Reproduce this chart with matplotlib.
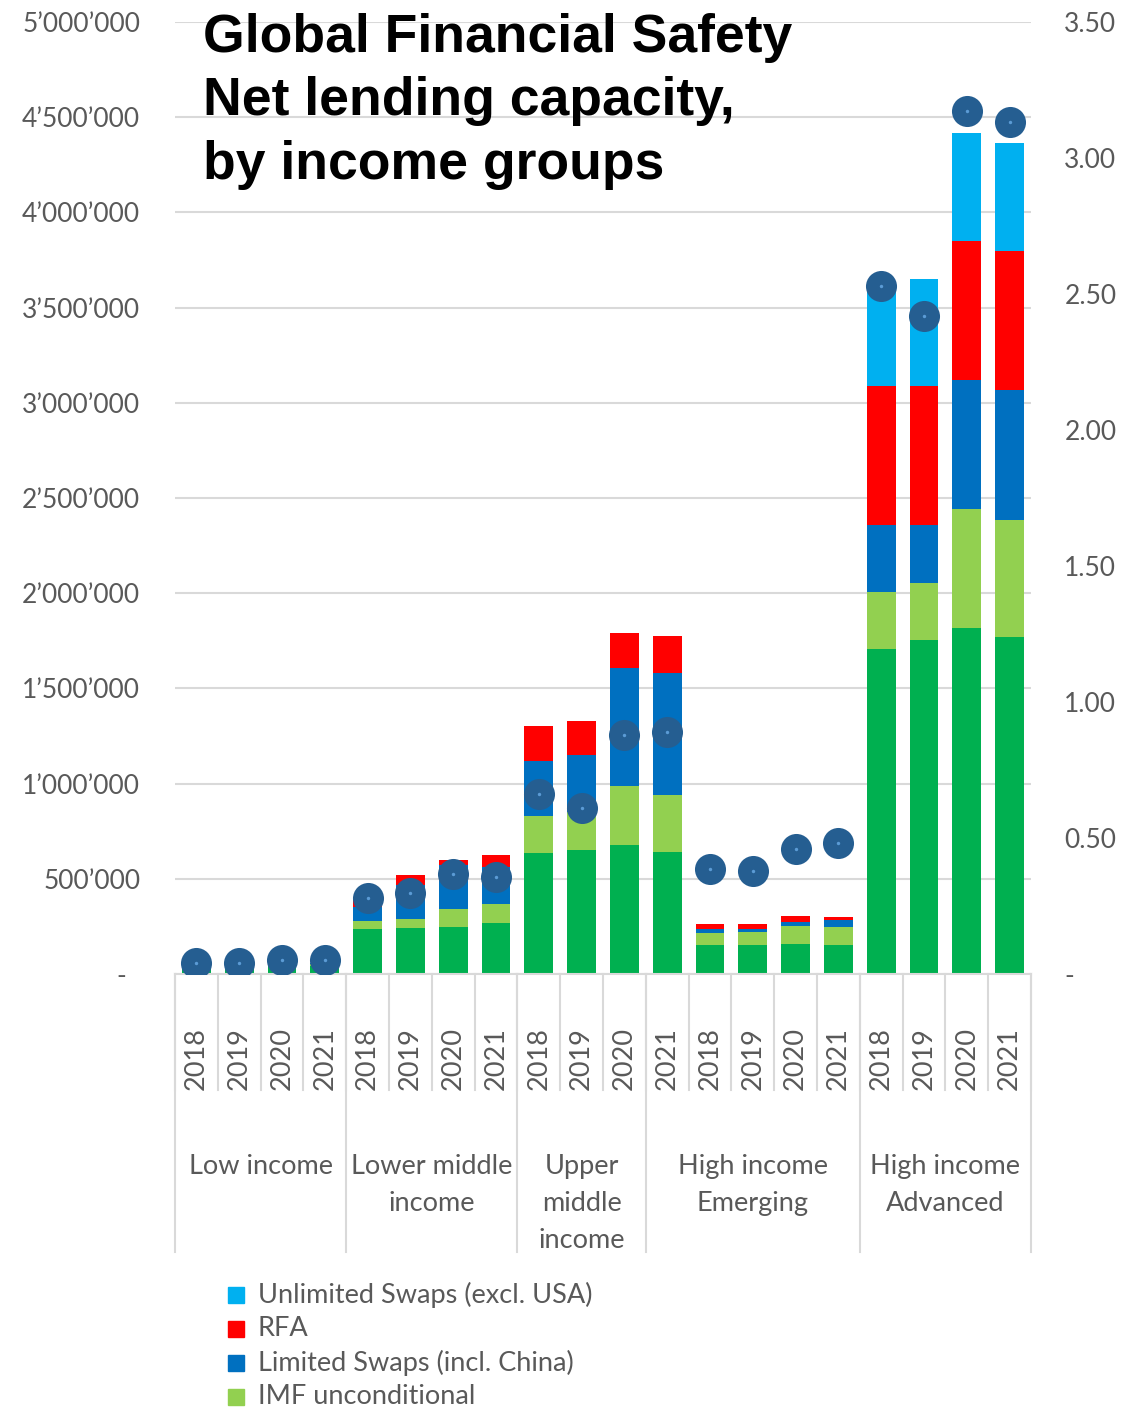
"""Global Financial Safety Net lending capacity by income group, stacked bars with ratio dots."""
import numpy as np
import matplotlib.pyplot as plt
from matplotlib.patches import Rectangle
from matplotlib.ticker import FuncFormatter, MultipleLocator

plt.rcParams["font.family"] = ["Lato", "DejaVu Sans"]

YEARS = ["2018", "2019", "2020", "2021"]
GROUPS = ["Low income", "Lower middle\nincome", "Upper\nmiddle\nincome",
          "High income\nEmerging", "High income\nAdvanced"]

# stacked segment heights (USD thousands -> converted below), 5 groups x 4 years
imf_conditional = [28, 27, 42, 44,
                   235, 240, 248, 269,
                   637, 653, 678, 642,
                   151, 154, 159, 154,
                   1707, 1752, 1817, 1772]
imf_unconditional = [6, 6, 8, 8,
                     45, 47, 93, 100,
                     193, 197, 311, 298,
                     66, 68, 95, 91,
                     298, 303, 627, 615]
limited_swaps = [3, 3, 4, 4,
                 72, 183, 229, 191,
                 287, 299, 620, 641,
                 18, 13, 21, 37,
                 351, 302, 678, 679]
rfa = [0, 0, 0, 0,
       50, 48, 29, 65,
       186, 181, 184, 194,
       28, 28, 28, 17,
       730, 730, 728, 732]
unlimited_swaps = [0, 0, 0, 0,
                   0, 0, 0, 0,
                   0, 0, 0, 0,
                   0, 0, 0, 0,
                   514, 563, 567, 566]
# ratio plotted on the right axis
ratio = [0.042, 0.040, 0.053, 0.053,
         0.279, 0.299, 0.367, 0.358,
         0.661, 0.611, 0.879, 0.891,
         0.387, 0.380, 0.460, 0.482,
         2.528, 2.418, 3.171, 3.134]

SERIES = [
    ("IMF conditional", imf_conditional, "#00B050"),
    ("IMF unconditional", imf_unconditional, "#92D050"),
    ("Limited Swaps (incl. China)", limited_swaps, "#0070C0"),
    ("RFA", rfa, "#FF0000"),
    ("Unlimited Swaps (excl. USA)", unlimited_swaps, "#00B0F0"),
]
GREY = "#595959"
GRID = "#D9D9D9"
DOT = "#255E91"
FS = 19.5


def left_fmt(v, _):
    if v == 0:
        return "-  "
    return f"{int(round(v)):,}".replace(",", "\u2019")


def right_fmt(v, _):
    if v == 0:
        return "-"
    return f"{v:.2f}"


W, H = 1122, 1408
fig = plt.figure(figsize=(W / 100, H / 100), dpi=100)
ax = fig.add_axes([175 / W, 1 - 974 / H, (1031 - 175) / W, (974 - 22) / H])

x = np.arange(len(ratio))
bottom = np.zeros(len(x))
for name, vals, colour in SERIES:
    vals = np.array(vals, dtype=float) * 1000
    ax.bar(x, vals, bottom=bottom, width=0.67, color=colour, zorder=2, label=name)
    bottom += vals

ax.set_xlim(-0.5, len(x) - 0.5)
ax.set_ylim(0, 5_000_000)
ax.yaxis.set_major_locator(MultipleLocator(500_000))
ax.yaxis.set_major_formatter(FuncFormatter(left_fmt))
ax.grid(axis="y", color=GRID, linewidth=1.5, zorder=0)
ax.set_axisbelow(True)
for side in ["left", "right", "top"]:
    ax.spines[side].set_visible(False)
ax.spines["bottom"].set_color(GRID)
ax.spines["bottom"].set_linewidth(1.5)
ax.tick_params(axis="y", length=0, pad=25, labelsize=19, labelcolor=GREY)
ax.set_xticks(x)
ax.set_xticklabels(YEARS * len(GROUPS), rotation=90, fontsize=FS, color=GREY)
ax.tick_params(axis="x", length=0, pad=38)

ax2 = ax.twinx()
ax2.set_ylim(0, 3.5)
ax2.yaxis.set_major_locator(MultipleLocator(0.5))
ax2.yaxis.set_major_formatter(FuncFormatter(right_fmt))
for side in ["left", "right", "top", "bottom"]:
    ax2.spines[side].set_visible(False)
ax2.tick_params(axis="y", length=0, pad=24, labelsize=19, labelcolor=GREY)
ax2.scatter(x, ratio, s=500, color=DOT, zorder=4, linewidths=0)
ax2.scatter(x, ratio, s=6, color="#5B9BD5", zorder=5, linewidths=0)

# category axis separators: short ones between years, long ones between groups
trans = ax.get_xaxis_transform()
ax_h = 974 - 22
year_low = -(1090 - 974) / ax_h
group_low = -(1252 - 974) / ax_h
for b in np.arange(-0.5, len(x)):
    ax.plot([b, b], [0, year_low], color=GRID, linewidth=1.5, transform=trans, clip_on=False)
for b in [-0.5, 3.5, 7.5, 10.5, 15.5, 19.5]:
    ax.plot([b, b], [0, group_low], color=GRID, linewidth=1.5, transform=trans, clip_on=False)
group_centres = [1.5, 5.5, 9.0, 13.0, 17.5]
for cx, label in zip(group_centres, GROUPS):
    ax.text(cx, -(1154 - 974) / ax_h, label, transform=trans, ha="center", va="top",
            fontsize=FS, color=GREY, linespacing=1.6)

fig.text(203 / W, 1 - 13 / H, "Global Financial Safety\nNet lending capacity,\nby income groups",
         family="Liberation Sans", fontweight="bold", fontsize=38.5, va="top", ha="left",
         linespacing=1.34, color="black")

# legend, upper entries first (the last one runs off the page in the original)
for i, (name, _, colour) in enumerate(reversed(SERIES[1:])):
    yc = 1295 + 34 * i
    fig.add_artist(Rectangle((228 / W, 1 - (yc + 8) / H), 16 / W, 16 / H,
                             transform=fig.transFigure, color=colour))
    fig.text(258 / W, 1 - yc / H, name, fontsize=FS, color=GREY, va="center", ha="left")

fig.savefig("out.png", dpi=100)
